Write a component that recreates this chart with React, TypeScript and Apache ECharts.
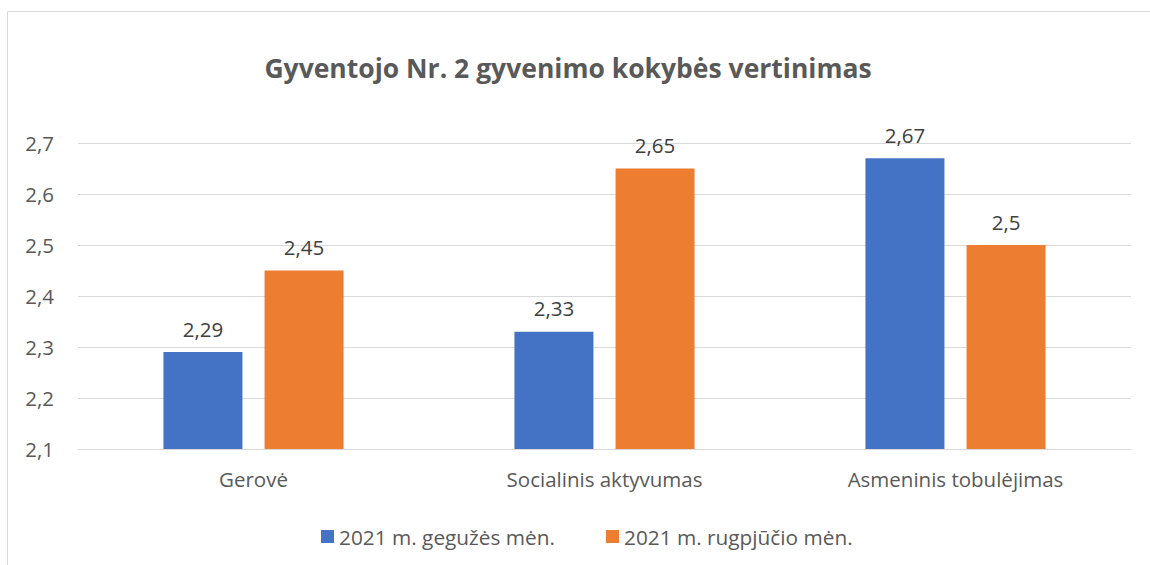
import React, { useEffect, useRef } from "react";
import * as echarts from "echarts";

const categories = ["Gerovė", "Socialinis aktyvumas", "Asmeninis tobulėjimas"];
const seriesNames = ["2021 m. gegužės mėn.", "2021 m. rugpjūčio mėn."];
const mayValues = [2.29, 2.33, 2.67];
const augValues = [2.45, 2.65, 2.5];
const yMin = 2.1;
const yMax = 2.7;
const yStep = 0.1;

const fmt = (v: number) => {
  const r = Math.round(v * 100) / 100;
  return String(r).replace(".", ",");
};

export default function App() {
  const ref = useRef<HTMLDivElement>(null);
  useEffect(() => {
    if (!ref.current) return;
    const chart = echarts.init(ref.current, undefined, { renderer: "svg" });
    const font = "Open Sans";
    const fs = 20.5;
    chart.setOption({
      animation: false,
      backgroundColor: "#ffffff",
      textStyle: { fontFamily: font },
      title: {
        text: "Gyventojo Nr. 2 gyvenimo kokybės vertinimas",
        left: 563,
        textAlign: "center",
        top: 49,
        textStyle: { fontFamily: font, fontSize: 26.5, fontWeight: "bold", color: "#595959" },
      },
      graphic: [
        {
          type: "rect",
          shape: { x: 7.5, y: 11.5, width: 1300, height: 700 },
          style: { fill: "none", stroke: "#d9d9d9", lineWidth: 1 },
          silent: true,
          z: -1,
        },
      ],
      legend: {
        data: seriesNames,
        left: 316,
        top: 521,
        icon: "rect",
        itemWidth: 13,
        itemHeight: 13,
        itemGap: 51,
        textStyle: { fontFamily: font, fontSize: 20.8, color: "#595959" },
      },
      grid: { left: 78, right: 19, top: 143, bottom: 116, containLabel: false },
      xAxis: {
        type: "category",
        data: categories,
        axisLine: { show: true, lineStyle: { color: "#d9d9d9", width: 1 } },
        axisTick: { show: false },
        axisLabel: { margin: 19, fontFamily: font, fontSize: fs, color: "#595959" },
      },
      yAxis: {
        type: "value",
        min: yMin,
        max: yMax,
        interval: yStep,
        axisLine: { show: false },
        axisTick: { show: false },
        splitLine: { lineStyle: { color: "#d9d9d9", width: 1 } },
        axisLabel: {
          margin: 24,
          fontFamily: font,
          fontSize: fs,
          color: "#595959",
          formatter: (v: number) => v.toFixed(1).replace(".", ","),
        },
      },
      series: [
        {
          name: seriesNames[0],
          type: "bar",
          data: mayValues,
          barWidth: 79,
          barGap: "28%",
          itemStyle: { color: "#4472C4" },
          label: {
            show: true,
            position: "top",
            distance: 13,
            fontFamily: font,
            fontSize: fs,
            color: "#404040",
            formatter: (p: any) => fmt(p.value),
          },
        },
        {
          name: seriesNames[1],
          type: "bar",
          data: augValues,
          barWidth: 79,
          itemStyle: { color: "#ED7D31" },
          label: {
            show: true,
            position: "top",
            distance: 13,
            fontFamily: font,
            fontSize: fs,
            color: "#404040",
            formatter: (p: any) => fmt(p.value),
          },
        },
      ],
    });
    return () => chart.dispose();
  }, []);
  return (
    <div
      ref={ref}
      style={{ position: "fixed", left: 0, top: 0, width: 1150, height: 565 }}
    />
  );
}
